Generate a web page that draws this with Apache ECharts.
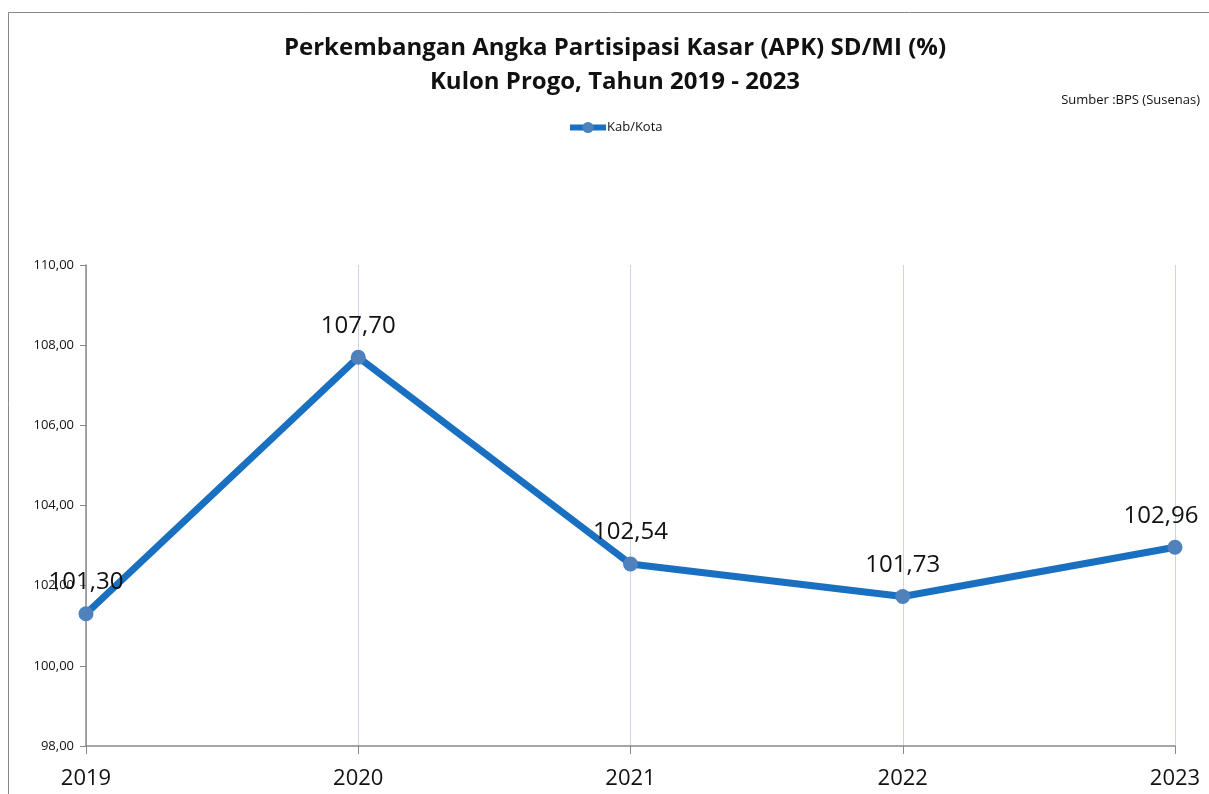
<!DOCTYPE html>
<html>
<head>
<meta charset="utf-8">
<title>APK SD/MI Kulon Progo</title>
<script src="https://cdn.jsdelivr.net/npm/echarts@6/dist/echarts.min.js"></script>
<style>
  html, body { margin: 0; padding: 0; background: #fff; }
  #chart { width: 1209px; height: 794px; }
</style>
</head>
<body>
<div id="chart"></div>
<script>
const years = ['2019', '2020', '2021', '2022', '2023'];
const apkValues = [101.30, 107.70, 102.54, 101.73, 102.96];
const seriesName = 'Kab/Kota';

const fmt = v => v.toFixed(2).replace('.', ',');

const chart = echarts.init(document.getElementById('chart'));
chart.setOption({
  animation: false,
  textStyle: { fontFamily: 'Open Sans, Liberation Sans, sans-serif' },
  title: {
    text: 'Perkembangan Angka Partisipasi Kasar (APK) SD/MI (%)\nKulon Progo, Tahun 2019 - 2023',
    left: 610,
    textAlign: 'center',
    top: 26,
    textStyle: { fontSize: 24, fontWeight: 'bold', color: '#111', lineHeight: 34 }
  },
  graphic: [
    {
      type: 'rect',
      shape: { x: 8.5, y: 12.5, width: 1230, height: 800 },
      style: { fill: 'none', stroke: '#888', lineWidth: 1 }
    },
    {
      type: 'text',
      right: 9,
      top: 94,
      style: { text: 'Sumber :BPS (Susenas)', fontSize: 13, fill: '#111', fontFamily: 'Open Sans, sans-serif' }
    }
  ],
  legend: {
    data: [seriesName],
    left: 562,
    top: 116,
    itemWidth: 36,
    itemHeight: 14,
    itemGap: 2,
    lineStyle: { width: 6 },
    textStyle: { fontSize: 13, color: '#111', padding: [0, 0, 0, -4] }
  },
  grid: { left: 86, right: 34, top: 265, bottom: 48 },
  xAxis: {
    type: 'category',
    data: years,
    boundaryGap: false,
    axisLine: { lineStyle: { color: '#888', width: 1.5 } },
    axisTick: { show: true, length: 8, lineStyle: { color: '#888' } },
    axisLabel: { fontSize: 22, color: '#111', margin: 22 },
    splitLine: { show: true, lineStyle: { color: '#c9d5e8', width: 1 } }
  },
  yAxis: {
    type: 'value',
    min: 98,
    max: 110,
    interval: 2,
    axisLine: { show: true, lineStyle: { color: '#888', width: 1.5 } },
    axisTick: { show: true, length: 6, lineStyle: { color: '#888' } },
    axisLabel: { fontSize: 13, color: '#111', margin: 12, formatter: v => fmt(v) },
    splitLine: { show: false }
  },
  series: [{
    name: seriesName,
    type: 'line',
    data: apkValues,
    symbol: 'circle',
    symbolSize: 15,
    lineStyle: { color: '#1a70c0', width: 7 },
    itemStyle: { color: '#4f81bd' },
    label: {
      show: true,
      position: 'top',
      distance: 12,
      fontSize: 24,
      color: '#111',
      formatter: p => fmt(p.value)
    },
    // last label is pulled left so it stays inside the canvas
    labelLayout: p => (p.dataIndex === apkValues.length - 1 ? { dx: -14 } : {})
  }]
});
</script>
</body>
</html>
